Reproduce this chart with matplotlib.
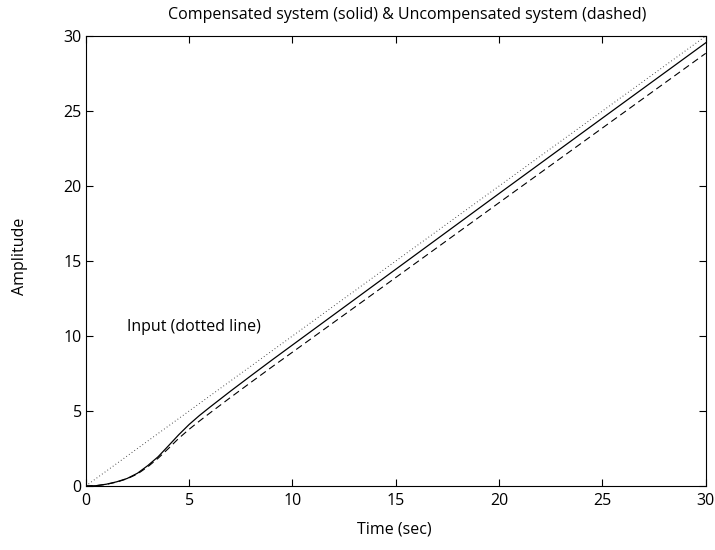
import matplotlib
matplotlib.use("Agg")
import matplotlib.pyplot as plt

# time samples (sec)
t = [0, 0.5, 1, 1.5, 2, 2.5, 3, 3.5, 4, 4.5, 5, 5.5, 6, 7, 8, 9, 10, 15, 20, 25, 30]

# ramp input
u = [0, 0.5, 1, 1.5, 2, 2.5, 3, 3.5, 4, 4.5, 5, 5.5, 6, 7, 8, 9, 10, 15, 20, 25, 30]

# compensated system (solid)
y_comp = [0, 0.02, 0.12, 0.28, 0.5, 0.85, 1.36, 1.95, 2.68, 3.42, 4.1, 4.7, 5.25,
          6.32, 7.36, 8.39, 9.4, 14.45, 19.5, 24.53, 29.55]

# uncompensated system (dashed)
y_unc = [0, 0.02, 0.11, 0.26, 0.48, 0.8, 1.28, 1.85, 2.5, 3.18, 3.78, 4.33, 4.86,
         5.9, 6.92, 7.93, 8.92, 13.9, 18.89, 23.87, 28.85]

plt.rcParams['font.family'] = ['Open Sans', 'DejaVu Sans']
plt.rcParams['font.size'] = 11.5
plt.rcParams['lines.scale_dashes'] = False

fig = plt.figure(figsize=(7.15, 5.5), dpi=100)
ax = fig.add_axes([0.12, 0.1164, 0.867, 0.818])

ax.plot(t, u, color='#333333', lw=0.7, linestyle=(0, (0.6, 1.8)))
ax.plot(t, y_comp, color='black', lw=0.9)
ax.plot(t, y_unc, color='black', lw=0.8, dashes=(5, 3))

ax.set_xlim(0, 30)
ax.set_ylim(0, 30)
ax.set_xticks(range(0, 31, 5))
ax.set_yticks(range(0, 31, 5))
ax.tick_params(direction='in', length=5, width=0.8, top=True, right=True,
               labelsize=11.5, pad=5)
ax.tick_params(axis='y', pad=3)
for s in ax.spines.values():
    s.set_linewidth(0.8)

ax.text(2, 10.6, 'Input (dotted line)', va='center', ha='left')

fig.text(0.569, 1 - 15 / 550,
         'Compensated system (solid) & Uncompensated system (dashed)',
         ha='center', va='center')
fig.text(394 / 715, 1 - 530 / 550, 'Time (sec)', ha='center', va='center')
fig.text(20 / 715, 1 - 256 / 550, 'Amplitude', ha='center', va='center',
         rotation=90)

fig.savefig('out.png', dpi=100)
